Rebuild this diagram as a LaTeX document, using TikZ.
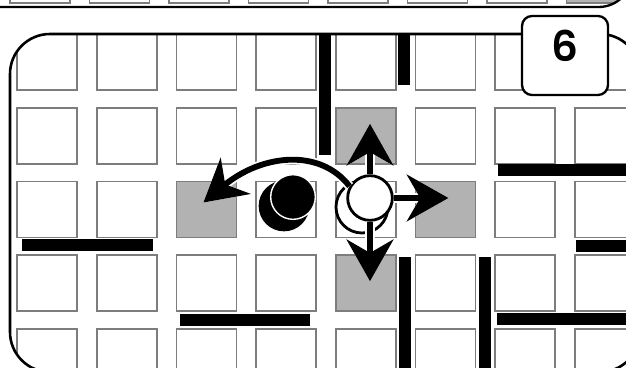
\documentclass[tikz,border=0pt]{standalone}
\usepackage{fontspec}
\newfontfamily\tabfont{Poppins}[UprightFont={* SemiBold}]
\usepackage{xcolor}
\definecolor{cellgray}{RGB}{125,125,125}
\definecolor{moveshade}{RGB}{178,178,178}
\usepackage{tikz}
\usetikzlibrary{arrows.meta,positioning,calc}

\begin{document}
\begin{tikzpicture}[x=0.03cm, y=-0.03cm,
    cell/.style={rectangle, draw=cellgray, line width=1.5pt, fill=white,
                 minimum width=1.8cm, minimum height=1.68cm, inner sep=0pt},
    target/.style={fill=moveshade},
    wall/.style={line width=0.34cm, black},
    frame/.style={line width=2.2pt, rounded corners=1.2cm},
    tab/.style={rectangle, rounded corners=0.3cm, draw, line width=2pt, fill=white,
                minimum width=2.58cm, minimum height=2.37cm, text depth=0.57cm,
                font=\tabfont\fontsize{36}{36}\selectfont},
    pawnbase/.style={circle, inner sep=0pt, line width=2.4pt},
    pawntop/.style={circle, inner sep=0pt, minimum size=1.34cm, line width=2.4pt},
    move/.style={-{Stealth[length=1.25cm, width=1.4cm, inset=0.4cm]}, line width=5pt,
                 preaction={draw=white, line width=8pt}},
  ]
    \useasboundingbox (0,0) rectangle (626,367);
    \clip (0,0) rectangle (626,367);

    % panel above
    \begin{scope}
      \clip[rounded corners=1cm] (-40,-100) rectangle (632,7);
      \foreach \c in {0,...,7}
        \node[cell, minimum height=1.5cm] (old-\c) at (40+79.5*\c, -22) {};
      \node[cell, target, minimum height=1.5cm] (old-gray) at (old-7) {};
    \end{scope}
    \draw[frame, rounded corners=1cm, line width=2pt] (-40,-100) rectangle (632,7);

    % panel 6
    \begin{scope}
      \clip[rounded corners=1.2cm] (10,34) rectangle (640,372);
      \foreach \r in {0,...,4}
        \foreach \c in {0,...,7}
          \node[cell] (sq-\r-\c) at (47+79.7*\c, 62+73.75*\r) {};
      \node[cell, target] (tgt-up)    at (sq-1-4) {};
      \node[cell, target] (tgt-left)  at (sq-2-2) {};
      \node[cell, target] (tgt-right) at (sq-2-5) {};
      \node[cell, target] (tgt-down)  at (sq-3-4) {};
      % walls
      \draw[wall] (325,30) -- (325,155);
      \draw[wall] (404,30) -- (404,85);
      \draw[wall] (498,170) -- (640,170);
      \draw[wall] (22,245) -- (153,245);
      \draw[wall] (180,320) -- (310,320);
      \draw[wall] (405,257) -- (405,380);
      \draw[wall] (485,257) -- (485,380);
      \draw[wall] (497,319) -- (640,319);
      \draw[wall] (576,246) -- (640,246);
    \end{scope}
    \draw[frame] (10,34) rectangle (640,372);
    \node[tab] (num) at (565,55.5) {6};

    % pawns
    \node[pawnbase, fill=black, minimum size=1.52cm] (bbase) at (284,206) {};
    \node[pawntop, fill=black, draw=white, line width=1.2pt] (bpawn) at (293,197) {};
    \node[pawnbase, fill=white, draw=black, minimum size=1.56cm] (wbase) at (362,207) {};
    \node[pawntop, fill=white, draw=black] (wpawn) at (370,198) {};

    % moves
    \draw[move] (wpawn) -- ($(wpawn |- tgt-up.center)+(0,-12)$);
    \draw[move] (wpawn) -- ($(wpawn -| tgt-right.center)+(3,0)$);
    \draw[move] (wpawn) -- ($(wpawn |- tgt-down.center)+(0,-2)$);
    \draw[move] (wpawn.150) .. controls (320,148) and (262,154) .. ($(tgt-left.center)+(-3,-7)$);
  \end{tikzpicture}
\end{document}
